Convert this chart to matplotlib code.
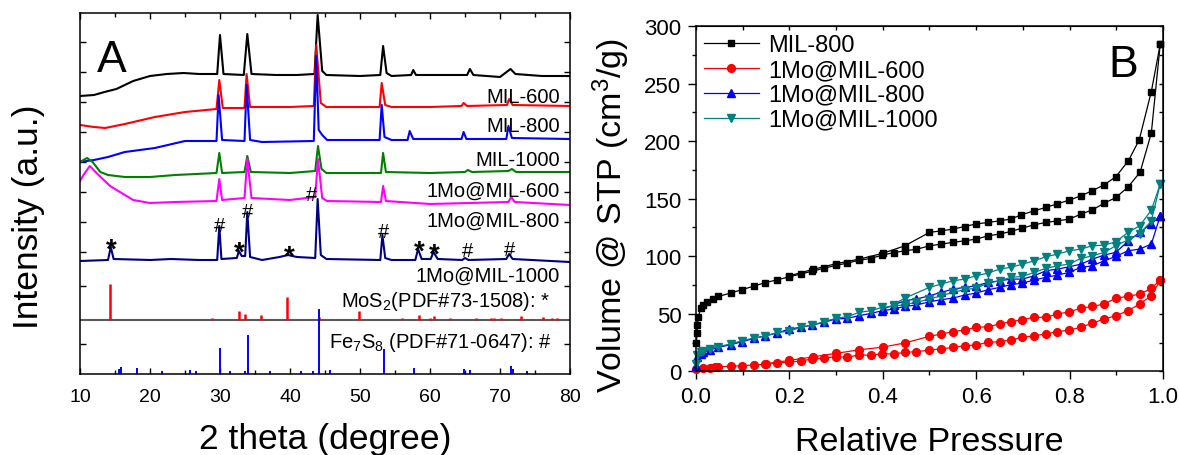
import numpy as np
import matplotlib
matplotlib.use("Agg")
import matplotlib.pyplot as plt
import matplotlib.ticker as ticker

plt.rcParams['font.family'] = ['Liberation Sans', 'DejaVu Sans']
plt.rcParams['mathtext.fontset'] = 'custom'
plt.rcParams['mathtext.rm'] = 'Liberation Sans'
plt.rcParams['mathtext.it'] = 'Liberation Sans:italic'

# ---------------- Panel A: XRD patterns, (2theta, intensity a.u. incl. offset) ----------------
mil600 = [(10, 278), (12, 279), (13.5, 282), (15.2, 285), (17.6, 293), (20, 298), (22.4, 300),
          (24.8, 301), (27, 300), (29.6, 300), (30.0, 339), (30.5, 300), (33.4, 299), (33.9, 340),
          (34.5, 300), (38, 299), (41, 299), (43.5, 300), (43.95, 359), (44.6, 303), (45.2, 299),
          (50, 298), (52.9, 299), (53.3, 328), (53.8, 301), (54.5, 298), (57.3, 299), (57.6, 304),
          (58, 299), (65.3, 299), (65.7, 305), (66.2, 299), (70, 297), (71.5, 305), (72.2, 300),
          (76, 298), (80, 298)]
mil800 = [(10, 249), (12, 247), (13.6, 246), (16.4, 250), (20.7, 257), (25, 262), (29.5, 265),
          (29.9, 294), (30.4, 266), (33.5, 266), (33.8, 300), (34.3, 267), (40, 267), (43.4, 268),
          (43.75, 329), (44.4, 271), (45.2, 267), (52.8, 267), (53.1, 291), (53.6, 269), (54.5, 267),
          (60, 267), (64.5, 268), (64.8, 271), (65.3, 268), (71, 269), (71.3, 275), (71.8, 269),
          (80, 268)]
mil1000 = [(10, 212), (12, 214), (14, 217), (16.4, 222), (20.7, 226), (25, 233), (29.5, 233),
           (29.8, 279), (30.3, 234), (33.5, 233), (33.8, 289), (34.3, 234), (36, 232), (43.4, 233),
           (43.75, 318), (44.1, 244), (44.6, 239), (45.3, 234), (52.8, 234), (53.1, 269), (53.5, 237),
           (54.5, 234), (56.8, 234), (57.1, 243), (57.6, 235), (64.5, 235), (64.8, 242), (65.2, 235),
           (70.9, 235), (71.2, 248), (71.7, 236), (80, 235)]
mo_mil600 = [(10, 212), (11, 216), (11.8, 212), (12.9, 202), (14, 199), (16.4, 197), (20, 197),
             (23.6, 199), (29.5, 201), (29.9, 221), (30.3, 201), (33.5, 202), (33.9, 218), (34.4, 202),
             (40, 201), (43.6, 203), (44.0, 228), (44.5, 205), (45.2, 201), (53.0, 201), (53.3, 221),
             (53.7, 202), (60, 201), (65.0, 202), (65.4, 204), (66, 202), (71.2, 203), (71.7, 205),
             (72.3, 202), (80, 202)]
mo_mil800 = [(10, 193), (10.5, 199), (11.4, 208), (12.5, 200), (14.3, 188), (15.7, 182), (17.6, 174),
             (20, 171), (23.6, 172), (29.5, 173), (29.9, 195), (30.3, 174), (33.5, 176), (33.9, 215),
             (34.5, 176), (40, 174), (43.6, 177), (44.0, 215), (44.6, 176), (45.3, 173), (53.0, 172),
             (53.3, 188), (53.7, 173), (60, 170), (71.2, 172), (71.6, 177), (72.1, 172), (80, 169)]
mo_mil1000 = [(10, 113), (14.0, 114), (14.4, 127), (14.8, 115), (20, 114), (23, 115), (27, 114),
              (29.6, 114), (29.9, 148), (30.2, 115), (32.4, 116), (32.7, 123), (33.1, 118), (33.6, 118),
              (33.9, 162), (34.3, 117), (36, 114), (38.5, 117), (39.7, 119), (41, 117), (43.6, 116),
              (43.95, 175), (44.4, 119), (45.2, 115), (52.9, 114), (53.2, 139), (53.6, 116), (54.5, 114),
              (57.9, 114), (58.3, 125), (58.8, 115), (60.1, 115), (60.5, 122), (61.1, 115), (64.6, 114),
              (65.0, 116), (65.5, 114), (70.9, 115), (71.3, 120), (71.8, 115), (80, 112)]
xrd_names = ["MIL-600", "MIL-800", "MIL-1000", "1Mo@MIL-600", "1Mo@MIL-800", "1Mo@MIL-1000"]

# reference stick patterns
mos2_tt = [14.3, 28.9, 32.7, 33.6, 35.9, 39.5, 44.1, 49.8, 56.0, 58.4, 60.0, 60.5, 62.8, 66.5,
           68.7, 69.1, 70.1, 73.0, 76.2, 77.4, 78.1]
mos2_h = [35.7, 1.7, 9, 5.4, 4.7, 22.4, 2.4, 9, 1.7, 5, 1.7, 3.4, 1.5, 1.3, 1.7, 1.7, 1.7, 3.5,
          2.4, 1.5, 1.5]
mos2_base = 54.3
fe7s8_tt = [15.5, 15.8, 18.2, 21.7, 25.7, 26.5, 30.05, 31.4, 33.6, 34.05, 37.1, 41.6, 43.3, 44.1,
            45.7, 53.4, 57.7, 64.9, 65.7, 71.6, 71.8, 73.8]
fe7s8_h = [5, 6.7, 5.7, 3.3, 4.3, 2.7, 25.7, 3, 3.3, 39, 2.7, 3.3, 3, 65, 4, 25, 6, 5, 4.3, 8.3,
           5, 2.7]
fe7s8_base = 0

# phase marks on 1Mo@MIL-1000
star_tt = [14.4, 32.7, 39.9, 58.4, 60.6]
star_y = [117, 114, 110, 115, 112]
hash_tt = [30.0, 33.95, 43.0, 53.4, 65.4, 71.4]
hash_y = [143, 157, 174, 137, 118, 119]

# ---------------- Panel B: N2 isotherms (P/P0, cm3/g) ----------------
b_ads = [(0.001, 25), (0.002, 33), (0.003, 40), (0.005, 47), (0.01, 55), (0.016, 58), (0.023, 60),
         (0.037, 63), (0.048, 65), (0.074, 68), (0.099, 71), (0.124, 74), (0.148, 77), (0.174, 79.5),
         (0.199, 82), (0.224, 84.5), (0.249, 87), (0.274, 89.5), (0.299, 92), (0.324, 94),
         (0.349, 96.5), (0.374, 98), (0.399, 101), (0.423, 103), (0.447, 104.7), (0.472, 106),
         (0.50, 109), (0.525, 110.5), (0.55, 112), (0.575, 113.4), (0.60, 114.8), (0.625, 117.7),
         (0.65, 119.2), (0.674, 121.5), (0.699, 124.4), (0.724, 127.3), (0.749, 129.3),
         (0.774, 130.7), (0.799, 132.2), (0.824, 136.5), (0.849, 140.3), (0.874, 146), (0.899, 151),
         (0.925, 160), (0.951, 173), (0.975, 207), (0.994, 284)]
b_des = [(0.994, 284), (0.975, 243), (0.949, 201), (0.926, 183), (0.899, 169), (0.874, 162),
         (0.849, 157), (0.824, 152.4), (0.799, 148.7), (0.774, 145.5), (0.749, 142.4), (0.724, 139.4),
         (0.697, 136), (0.674, 132.2), (0.65, 130.7), (0.625, 129.3), (0.60, 128), (0.575, 125.8),
         (0.55, 123.5), (0.525, 122), (0.50, 120.7), (0.447, 109), (0.40, 102.5), (0.35, 97.5),
         (0.30, 93.5), (0.25, 88.5), (0.20, 83)]
r_ads = [(0.001, 2), (0.016, 2.9), (0.03, 3), (0.04, 3.5), (0.048, 4), (0.074, 4.3), (0.099, 4.9),
         (0.124, 5.5), (0.148, 6), (0.174, 7.5), (0.199, 7.8), (0.224, 9), (0.249, 10.7),
         (0.274, 11.3), (0.299, 12.8), (0.324, 12), (0.349, 14.4), (0.374, 13.8), (0.399, 15.3),
         (0.423, 15), (0.447, 16.5), (0.472, 17), (0.50, 18.5), (0.525, 19.4), (0.55, 20.8),
         (0.575, 22.2), (0.60, 22.8), (0.625, 25.2), (0.65, 25.7), (0.674, 27.2), (0.699, 29.5),
         (0.724, 30.9), (0.749, 32.4), (0.774, 34.4), (0.799, 35.9), (0.824, 38.2), (0.849, 41.9),
         (0.874, 45.4), (0.899, 48.3), (0.925, 52.6), (0.95, 58.4), (0.975, 65.6), (0.994, 79.3)]
r_des = [(0.994, 79.3), (0.975, 72), (0.95, 67.1), (0.925, 65.1), (0.899, 63.6), (0.874, 58.4),
         (0.849, 56.4), (0.824, 54.7), (0.799, 51.7), (0.774, 49.7), (0.749, 46.9), (0.724, 46.9),
         (0.699, 44.8), (0.674, 43.1), (0.65, 41.1), (0.625, 38.7), (0.60, 38.2), (0.575, 35.9),
         (0.55, 34.4), (0.525, 32.4), (0.50, 30.4), (0.447, 24.6), (0.40, 21), (0.35, 18.7),
         (0.30, 15.6), (0.25, 12.5), (0.20, 9.5), (0.15, 6.5)]
bl_ads = [(0.001, 5), (0.003, 12), (0.01, 15), (0.016, 16.5), (0.03, 18.5), (0.048, 20.8),
          (0.074, 23.1), (0.099, 25.7), (0.124, 28.6), (0.148, 30.9), (0.174, 33.2), (0.199, 36.7),
          (0.224, 38.2), (0.249, 40.2), (0.274, 42.5), (0.299, 45.4), (0.324, 46), (0.349, 48.3),
          (0.374, 50.3), (0.399, 52.6), (0.423, 54.1), (0.447, 56.4), (0.472, 57.6), (0.50, 60.4),
          (0.525, 62.2), (0.55, 63.6), (0.575, 66.2), (0.60, 68), (0.625, 70.8), (0.65, 72.9),
          (0.674, 75.2), (0.699, 76.6), (0.724, 79.3), (0.749, 81.6), (0.774, 83.6), (0.799, 85.9),
          (0.824, 90.3), (0.849, 91.7), (0.874, 96), (0.899, 99.8), (0.925, 104.7), (0.95, 106.2),
          (0.975, 110.5), (0.994, 135)]
bl_des = [(0.994, 135), (0.975, 128), (0.95, 120.7), (0.925, 113), (0.899, 103.3), (0.874, 101),
          (0.849, 97.5), (0.824, 93.1), (0.799, 90.8), (0.774, 88.8), (0.749, 87.3), (0.724, 83),
          (0.699, 80.1), (0.674, 80.1), (0.65, 78.6), (0.625, 77.2), (0.60, 74.3), (0.575, 72.9),
          (0.55, 71.4), (0.525, 68.6), (0.50, 65.6), (0.472, 62.8), (0.447, 61.3), (0.423, 57.6),
          (0.40, 54)]
t_ads = [(0.001, 6), (0.003, 14), (0.01, 16.5), (0.016, 17.5), (0.03, 19.5), (0.048, 21.5),
         (0.074, 23.7), (0.099, 26.6), (0.124, 28.9), (0.148, 30.4), (0.174, 33.8), (0.199, 34.7),
         (0.224, 38.2), (0.249, 40.2), (0.274, 43.1), (0.299, 46), (0.324, 47.4), (0.349, 51.2),
         (0.374, 52.6), (0.399, 55.6), (0.423, 56.4), (0.447, 58), (0.472, 59.9), (0.50, 62.8),
         (0.525, 65.6), (0.55, 68.6), (0.575, 70.8), (0.60, 72.3), (0.625, 76.6), (0.65, 78.6),
         (0.674, 81.6), (0.699, 82.4), (0.724, 85.9), (0.749, 89.4), (0.774, 91.7), (0.799, 93.1),
         (0.824, 98.1), (0.849, 100.3), (0.874, 103.3), (0.899, 109.1), (0.925, 114.2),
         (0.95, 119.2), (0.975, 130.7), (0.994, 162.6)]
t_des = [(0.994, 162.6), (0.975, 140), (0.95, 126.4), (0.925, 120.7), (0.899, 112.5), (0.874, 109.6),
         (0.849, 109.1), (0.824, 106.2), (0.799, 104.7), (0.774, 101.8), (0.749, 99.5), (0.724, 96),
         (0.699, 93.1), (0.674, 90.3), (0.65, 88.8), (0.625, 85.3), (0.60, 83), (0.575, 80.1),
         (0.55, 78.6), (0.525, 75.8), (0.50, 72.9), (0.447, 63.6), (0.423, 58)]
iso_names = ["MIL-800", "1Mo@MIL-600", "1Mo@MIL-800", "1Mo@MIL-1000"]

W, H = 1179, 456
fig = plt.figure(figsize=(W / 100, H / 100), dpi=100)
axA = fig.add_axes([80 / W, 1 - 375 / H, 490 / W, 361 / H])
axB = fig.add_axes([696 / W, 1 - 372.3 / H, 467 / W, 345.3 / H])

# ---- panel A ----
xrd_colors = ['black', '#ff0000', '#0000ff', '#008000', '#ff00ff', '#000080']
for pts, c in zip([mil600, mil800, mil1000, mo_mil600, mo_mil800, mo_mil1000], xrd_colors):
    a = np.array(pts)
    axA.plot(a[:, 0], a[:, 1], color=c, lw=1.5)

axA.vlines(mos2_tt, mos2_base, mos2_base + np.array(mos2_h), color='#ff0000', lw=1.8)
axA.vlines(fe7s8_tt, fe7s8_base, fe7s8_base + np.array(fe7s8_h), color='#0000ff', lw=1.4)
axA.axhline(mos2_base, color='#5a5a5a', lw=1.5, zorder=1)

for x, y in zip(star_tt, star_y):
    axA.text(x, y, '*', fontsize=20, ha='center', va='baseline', fontweight='bold')
for x, y in zip(hash_tt, hash_y):
    axA.text(x, y, '#', fontsize=14.5, ha='center', va='baseline')

label_y = [272, 243, 209, 178, 148, 93]
for name, y in zip(xrd_names, label_y):
    axA.text(78.6, y, name, fontsize=14.5, ha='right', va='baseline')
axA.text(77.2, 68, r'MoS$\mathregular{_2}$(PDF#73-1508): *', fontsize=14.5, ha='right', va='baseline')
axA.text(77.4, 27, r'Fe$\mathregular{_7}$S$\mathregular{_8}$ (PDF#71-0647): #', fontsize=14.5,
         ha='right', va='baseline')
axA.text(0.035, 0.839, 'A', transform=axA.transAxes, fontsize=32, va='baseline')

axA.set_xlim(10, 80)
axA.set_ylim(0, 361)
axA.xaxis.set_major_locator(ticker.MultipleLocator(10))
axA.xaxis.set_minor_locator(ticker.MultipleLocator(5))
axA.set_yticks([332, 302, 272, 242, 212, 182, 152, 122, 88, 30])
axA.tick_params(which='both', direction='in', top=True, right=True, labelleft=False,
                labelsize=14, width=1, pad=10)
axA.tick_params(which='major', length=4)
axA.tick_params(which='minor', length=3)
for s in axA.spines.values():
    s.set_linewidth(1.1)
axA.set_xlabel('2 theta (degree)', fontsize=25.5)
axA.xaxis.set_label_coords(0.5, -0.133)
axA.set_ylabel('Intensity (a.u.)', fontsize=25.5)
axA.yaxis.set_label_coords(-0.071, 0.439)

# ---- panel B ----
iso_styles = [('black', 's', 4.8), ('#ff0000', 'o', 5.6), ('#0000ff', '^', 6.0), ('#008080', 'v', 6.0)]
for (ads, des), name, (c, m, ms) in zip([(b_ads, b_des), (r_ads, r_des), (bl_ads, bl_des), (t_ads, t_des)],
                                         iso_names, iso_styles):
    a = np.array(ads)
    d = np.array(des)
    axB.plot(a[:, 0], a[:, 1], color=c, marker=m, ms=ms, lw=0.9, label=name, clip_on=False)
    axB.plot(d[:, 0], d[:, 1], color=c, marker=m, ms=ms, lw=0.9, clip_on=False)

axB.set_xlim(0, 1.0)
axB.set_ylim(0, 300)
axB.xaxis.set_major_locator(ticker.MultipleLocator(0.2))
axB.xaxis.set_minor_locator(ticker.MultipleLocator(0.1))
axB.xaxis.set_major_formatter(ticker.FormatStrFormatter('%.1f'))
axB.yaxis.set_major_locator(ticker.MultipleLocator(50))
axB.yaxis.set_minor_locator(ticker.MultipleLocator(25))
axB.tick_params(which='both', direction='out', labelsize=16, width=1, pad=5)
axB.tick_params(which='major', length=5.5)
axB.tick_params(which='minor', length=3)
for s in axB.spines.values():
    s.set_linewidth(1.1)
secx = axB.secondary_xaxis('top')
secx.xaxis.set_major_locator(ticker.MultipleLocator(0.2))
secx.xaxis.set_minor_locator(ticker.MultipleLocator(0.1))
secx.xaxis.set_major_formatter(ticker.NullFormatter())
secx.tick_params(which='both', direction='in', length=3, width=1)
secy = axB.secondary_yaxis('right')
secy.yaxis.set_major_locator(ticker.MultipleLocator(50))
secy.yaxis.set_minor_locator(ticker.MultipleLocator(25))
secy.yaxis.set_major_formatter(ticker.NullFormatter())
secy.tick_params(which='both', direction='in', length=3, width=1)

axB.set_xlabel('Relative Pressure', fontsize=24.5)
axB.xaxis.set_label_coords(0.5, -0.158)
axB.set_ylabel(r'Volume @ STP (cm$\mathregular{^3}$/g)', fontsize=24.5)
axB.yaxis.set_label_coords(-0.137, 0.453)
axB.text(0.884, 0.854, 'B', transform=axB.transAxes, fontsize=32, va='baseline')
axB.legend(loc='upper left', bbox_to_anchor=(0.0, 1.0), frameon=False, fontsize=17,
           handlelength=2.3, handletextpad=0.4, labelspacing=0.12, borderaxespad=0.15,
           borderpad=0.2)

fig.savefig('out.png', dpi=100)
